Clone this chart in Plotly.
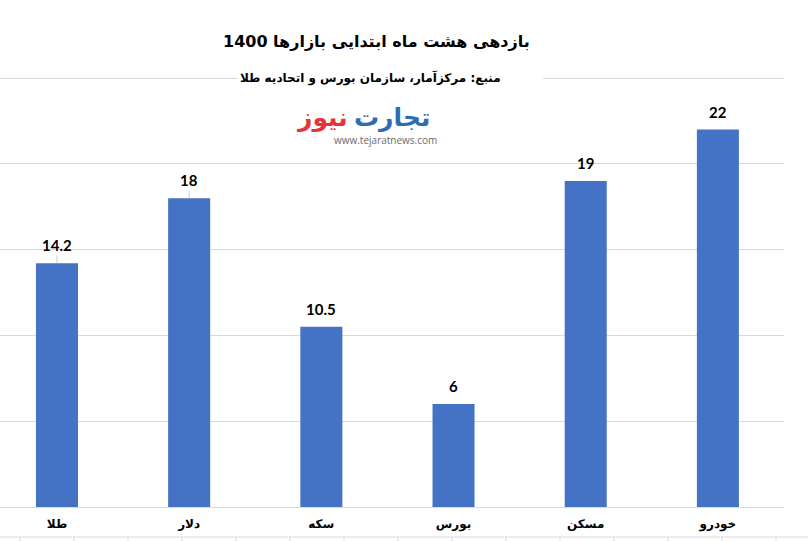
import plotly.graph_objects as go

categories = ["طلا", "دلار", "سکه", "بورس", "مسکن", "خودرو"]
values = [14.2, 18, 10.5, 6, 19, 22]
value_labels = ["14.2", "18", "10.5", "6", "19", "22"]
y_ticks = [0, 5, 10, 15, 20, 25]

title_text = "بازدهی هشت ماه ابتدایی بازارها 1400"
subtitle_text = "منبع: مرکزآمار، سازمان بورس و اتحادیه طلا"

W, H = 808, 541
L, R, T, B = 0, 24, 77, 34
PW, PH = W - L - R, H - T - B

def px(x):
    return (x - L) / PW

def py(y):
    return (H - B - y) / PH

AR = "DejaVu Sans"
NUM = "Lato, 'Open Sans', sans-serif"

fig = go.Figure()
fig.add_trace(go.Bar(
    x=list(range(len(categories))), y=values,
    width=0.318, marker=dict(color="#4472C4", line=dict(width=0)),
    hoverinfo="skip",
))

annotations = []
leader = {0, 1}
for i, (v, t) in enumerate(zip(values, value_labels)):
    annotations.append(dict(
        x=i, y=v, xref="x", yref="y", text="<b>%s</b>" % t,
        showarrow=True, ax=0, ay=-18, arrowhead=0, arrowwidth=0.8,
        arrowcolor="#bfbfbf" if i in leader else "rgba(0,0,0,0)",
        standoff=0, startstandoff=0,
        font=dict(family=NUM, size=15, color="#000000"),
    ))

annotations += [
    dict(x=px(376), y=py(30), xref="paper", yref="paper", text="<b>%s</b>" % title_text,
         showarrow=False, font=dict(family=AR, size=16, color="#000")),
    dict(x=px(370), y=py(68), xref="paper", yref="paper", text="<b>%s</b>" % subtitle_text,
         showarrow=False, font=dict(family=AR, size=12, color="#000")),
    dict(x=px(352), y=py(101), xref="paper", yref="paper", xanchor="left", text="<b>تجارت</b>",
         showarrow=False, font=dict(family=AR, size=25, color="#2E6DB4")),
    dict(x=px(350), y=py(101), xref="paper", yref="paper", xanchor="right", text="<b>نیوز</b>",
         showarrow=False, font=dict(family=AR, size=25, color="#E8323C")),
    dict(x=px(385), y=py(131), xref="paper", yref="paper", text="www.tejaratnews.com",
         showarrow=False, font=dict(family="Open Sans", size=10, color="#6b6b6b")),
]

shapes = [
    dict(type="rect", xref="paper", yref="paper", x0=px(237), x1=px(543), y0=py(58), y1=py(84),
         fillcolor="white", line=dict(width=0), layer="above"),
    dict(type="line", xref="paper", yref="paper", x0=px(0), x1=px(808), y0=py(537), y1=py(537),
         line=dict(color="#d9d9d9", width=1)),
]
for k in range(15):
    xx = 20 + 54 * k
    if xx > 800:
        break
    shapes.append(dict(type="line", xref="paper", yref="paper", x0=px(xx), x1=px(xx),
                       y0=py(537), y1=py(541), line=dict(color="#d9d9d9", width=1)))

fig.update_layout(
    width=W, height=H, margin=dict(l=L, r=R, t=T, b=B),
    paper_bgcolor="white", plot_bgcolor="white", showlegend=False,
    annotations=annotations, shapes=shapes,
    xaxis=dict(tickmode="array", tickvals=list(range(len(categories))),
               ticktext=["<b>%s</b>" % c for c in categories],
               range=[-0.431, 5.5], showgrid=False, zeroline=False, ticks="",
               showline=False, tickfont=dict(family=AR, size=12, color="#000"),
               ticklabelstandoff=8),
    yaxis=dict(range=[0, 25.06], tickvals=y_ticks, showticklabels=False, showgrid=True,
               gridcolor="#d9d9d9", gridwidth=1, zeroline=True, zerolinecolor="#d9d9d9",
               zerolinewidth=1, showline=False),
)

fig.write_html("out.html", config={"displayModeBar": False},
               post_script="document.body.style.margin='0';document.body.style.overflow='hidden';")
